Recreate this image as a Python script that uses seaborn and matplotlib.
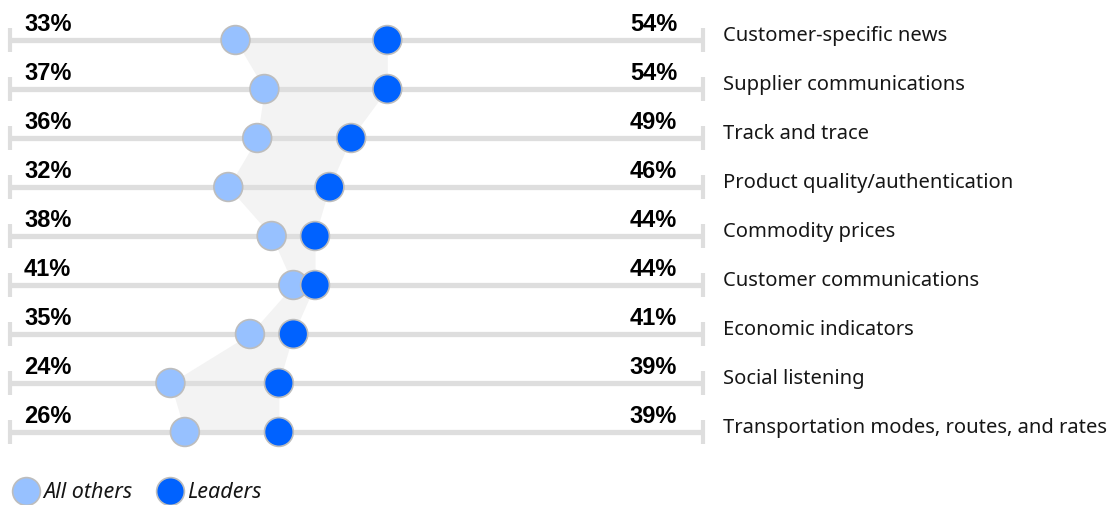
import matplotlib
matplotlib.use("Agg")
import matplotlib.pyplot as plt
from matplotlib.lines import Line2D
import numpy as np
import pandas as pd
import seaborn as sns

categories = [
    "Customer-specific news",
    "Supplier communications",
    "Track and trace",
    "Product quality/authentication",
    "Commodity prices",
    "Customer communications",
    "Economic indicators",
    "Social listening",
    "Transportation modes, routes, and rates",
]
all_others = [33, 37, 36, 32, 38, 41, 35, 24, 26]
leaders = [54, 54, 49, 46, 44, 44, 41, 39, 39]
series_names = ["All others", "Leaders"]
series_colors = ["#97c1ff", "#0062ff"]

sns.set_theme(style="white")
plt.rcParams["font.family"] = ["Noto Sans", "DejaVu Sans"]

rows = np.arange(len(categories))
df = pd.DataFrame({
    "row": np.concatenate([rows, rows]),
    "value": all_others + leaders,
    "group": [series_names[0]] * len(rows) + [series_names[1]] * len(rows),
})

fig = plt.figure(figsize=(11.13, 5.05), dpi=100)
ax = fig.add_axes([0, 0, 1, 1])

# horizontal scale: percent -> figure width, rows spaced evenly
px_per_pct = 7.23
x0_px = -3.1
ax.set_xlim((0 - x0_px) / px_per_pct, (1113 - x0_px) / px_per_pct)
row_px, row0_px = 49.0, 40.0
ax.set_ylim((505 - row0_px) / row_px, -row0_px / row_px)
ax.axis("off")

track_lo, track_hi = 1.8, 97.7

# shaded band between the two groups
ax.fill_betweenx(rows, all_others, leaders, color="#f3f3f3", lw=0, zorder=0)

# track lines with end caps
ax.hlines(rows, track_lo, track_hi, color="#dedede", lw=3.8, zorder=1)
for r in rows:
    ax.vlines([track_lo, track_hi], r - 0.235, r + 0.235, color="#dedede", lw=3.0, zorder=1)

sns.scatterplot(
    data=df, x="value", y="row", hue="group", palette=series_colors,
    hue_order=series_names, s=430, edgecolor="#bdbdbd", linewidth=1.2,
    legend=False, ax=ax, zorder=3,
)

pct_font = {"family": ["Liberation Sans", "DejaVu Sans"], "weight": "bold", "size": 17}
for r, lo, hi, name in zip(rows, all_others, leaders, categories):
    ax.text(3.75, r - 0.18, f"{lo}%", ha="left", va="baseline",
            fontdict=pct_font, color="#000000")
    ax.text(94.1, r - 0.18, f"{hi}%", ha="right", va="baseline",
            fontdict=pct_font, color="#000000")
    ax.text(100.4, r - 0.08, name, ha="left", va="center",
            fontsize=14.5, color="#161616")

handles = [
    Line2D([0], [0], marker="o", ls="", markersize=20,
           markerfacecolor=c, markeredgecolor="#bdbdbd", markeredgewidth=1.2)
    for c in series_colors
]
ax.legend(handles, series_names, loc="lower left", bbox_to_anchor=(0.004, -0.018),
          ncol=2, frameon=False, borderpad=0.0, handlelength=1.0,
          handletextpad=0.3, columnspacing=1.25,
          prop={"size": 15.5, "style": "italic"}, labelcolor="#161616")

fig.savefig("out.png", dpi=100)
